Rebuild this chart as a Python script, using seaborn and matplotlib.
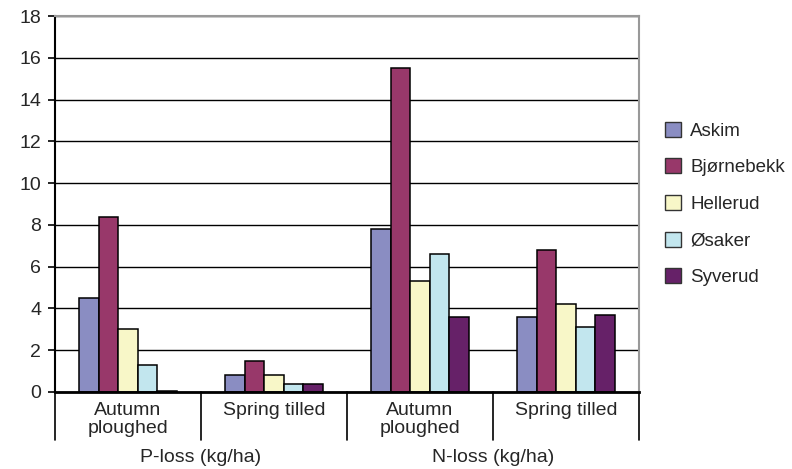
import matplotlib
matplotlib.use("Agg")
import matplotlib.pyplot as plt
import matplotlib.transforms as mtransforms
from matplotlib.patches import Patch
import seaborn as sns
import pandas as pd

# Nutrient losses per site, grouped by loss type and tillage
sites = ["Askim", "Bjørnebekk", "Hellerud", "Øsaker", "Syverud"]
groups = ["P-Autumn", "P-Spring", "N-Autumn", "N-Spring"]
group_labels = ["Autumn\nploughed", "Spring tilled", "Autumn\nploughed", "Spring tilled"]
loss_labels = ["P-loss (kg/ha)", "N-loss (kg/ha)"]

p_autumn = [4.5, 8.4, 3.0, 1.3, 0.05]
p_spring = [0.8, 1.5, 0.8, 0.4, 0.4]
n_autumn = [7.8, 15.5, 5.3, 6.6, 3.6]
n_spring = [3.6, 6.8, 4.2, 3.1, 3.7]

colors = ["#8A8DC2", "#98386A", "#F8F7C8", "#C2E6EE", "#662168"]

rows = []
for g, vals in zip(groups, [p_autumn, p_spring, n_autumn, n_spring]):
    for s, v in zip(sites, vals):
        rows.append({"group": g, "site": s, "value": v})
df = pd.DataFrame(rows)

sns.set_theme(style="white")
plt.rcParams["font.family"] = ["Liberation Sans", "DejaVu Sans"]

FS = 14

fig = plt.figure(figsize=(7.92, 4.69), dpi=100)
ax = fig.add_axes([55 / 792, 1 - 392 / 469, 584 / 792, 376 / 469])

sns.barplot(data=df, x="group", y="value", hue="site", order=groups,
            hue_order=sites, palette=colors, width=0.67, gap=0,
            edgecolor="black", linewidth=1.1, saturation=1, ax=ax,
            legend=False, zorder=3)

ax.set_ylim(0, 18)
ax.set_xlim(-0.5, 3.5)
ax.set_yticks(range(0, 19, 2))
ax.yaxis.grid(True, color="black", linewidth=1.0, zorder=0)
ax.set_axisbelow(True)
ax.tick_params(axis="y", direction="out", length=5, width=1.2, color="black",
               labelsize=FS, pad=5, left=True)
ax.tick_params(axis="x", bottom=False, labelbottom=False)
ax.set_xlabel("")
ax.set_ylabel("")

for side in ["top", "right"]:
    ax.spines[side].set_color("#999999")
    ax.spines[side].set_linewidth(1.5)
ax.spines["left"].set_color("black")
ax.spines["left"].set_linewidth(1.5)
ax.spines["bottom"].set_color("black")
ax.spines["bottom"].set_linewidth(2.0)
ax.spines["bottom"].set_zorder(5)

# Category divider lines below the axis
trans = mtransforms.blended_transform_factory(ax.transData, ax.transAxes)
for xpos in [-0.5, 0.5, 1.5, 2.5, 3.5]:
    ax.plot([xpos, xpos], [0, -48 / 376], transform=trans, color="black",
            linewidth=1.2, clip_on=False)

# Two-level category labels
for i, lab in enumerate(group_labels):
    ax.annotate(lab, xy=(i, 0), xycoords=trans, xytext=(0, -10),
                textcoords="offset pixels", ha="center", va="top",
                fontsize=FS, linespacing=1.1)
for i, lab in enumerate(loss_labels):
    ax.annotate(lab, xy=(2 * i + 0.5, 0), xycoords=trans, xytext=(0, -57),
                textcoords="offset pixels", ha="center", va="top",
                fontsize=FS)

handles = [Patch(facecolor=c, edgecolor="#333333", linewidth=1.0) for c in colors]
fig.legend(handles, sites, loc="center left", bbox_to_anchor=(665 / 792, 0.565),
           frameon=False, fontsize=13.5, handlelength=0.85, handleheight=0.85,
           handletextpad=0.5, labelspacing=1.0, borderaxespad=0, borderpad=0)

fig.savefig("out.png", dpi=100)
